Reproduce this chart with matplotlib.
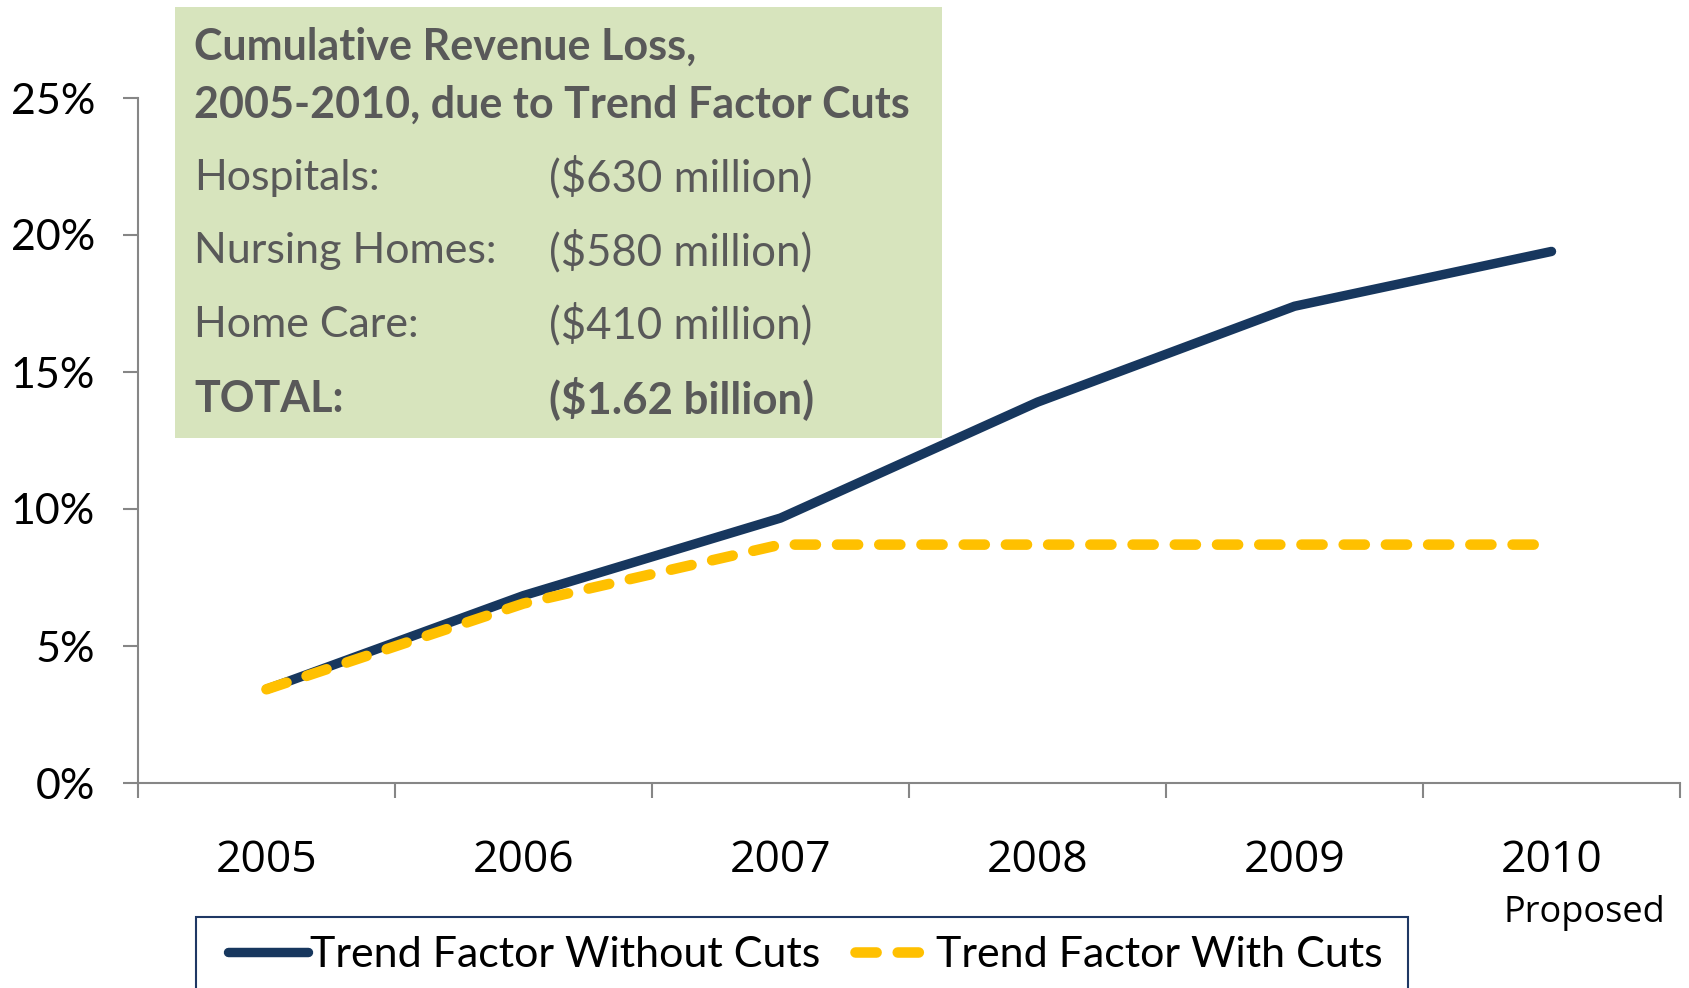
import matplotlib
matplotlib.use("Agg")
import matplotlib.pyplot as plt
from matplotlib.patches import Rectangle
from matplotlib.ticker import FixedLocator, FuncFormatter

plt.rcParams["font.family"] = ["Lato", "DejaVu Sans"]

years = ["2005", "2006", "2007", "2008", "2009", "2010"]
without_cuts = [3.42, 6.84, 9.67, 13.9, 17.4, 19.4]
with_cuts = [3.42, 6.55, 8.7, 8.7, 8.7, 8.7]
y_ticks = [0, 5, 10, 15, 20, 25]

box_title = ["Cumulative Revenue Loss,", "2005-2010, due to Trend Factor Cuts"]
sectors = ["Hospitals:", "Nursing Homes:", "Home Care:", "TOTAL:"]
losses = ["($630 million)", "($580 million)", "($410 million)", "($1.62 billion)"]

W, H = 1689, 988
NAVY = "#17375E"
GOLD = "#FFC000"
AXIS = "#868686"
TEXT = "#595959"

fig = plt.figure(figsize=(W / 100, H / 100), dpi=100)
ax = fig.add_axes([138 / W, 1 - 783 / H, (1680 - 138) / W, (783 - 98) / H])

x = list(range(len(years)))
ax.plot(x, without_cuts, color=NAVY, lw=6.8, solid_capstyle="round",
        solid_joinstyle="round", label="Trend Factor Without Cuts", zorder=3)
ax.plot(x, with_cuts, color=GOLD, lw=7.6, dashes=(2.0, 2.0),
        dash_capstyle="round", label="Trend Factor With Cuts", zorder=4)

ax.set_xlim(-0.5, len(years) - 0.5)
ax.set_ylim(0, 25)

for side in ["top", "right"]:
    ax.spines[side].set_visible(False)
for side in ["left", "bottom"]:
    ax.spines[side].set_color(AXIS)
    ax.spines[side].set_linewidth(1.5)

ax.set_yticks(y_ticks)
ax.yaxis.set_major_formatter(FuncFormatter(lambda v, p: f"{v:.0f}%"))
ax.tick_params(axis="y", direction="out", length=11, width=1.5, color=AXIS,
               labelsize=31, pad=20)

ax.xaxis.set_major_locator(FixedLocator([i - 0.5 for i in range(len(years) + 1)]))
ax.xaxis.set_major_formatter(FuncFormatter(lambda v, p: ""))
ax.xaxis.set_minor_locator(FixedLocator(x))
ax.set_xticklabels(years, minor=True)
ax.tick_params(axis="x", which="major", direction="out", length=11, width=1.5, color=AXIS)
ax.tick_params(axis="x", which="minor", length=0, pad=40, labelsize=32)
for lbl in ax.get_xticklabels(minor=True):
    lbl.set_fontfamily(["Open Sans", "DejaVu Sans"])

ax.text(x[-1] - 0.185, -0.163, "Proposed", transform=ax.get_xaxis_transform(),
        ha="left", va="top", fontsize=26, family=["Open Sans", "DejaVu Sans"])

# green summary box
fig.add_artist(Rectangle((174.5 / W, 1 - 438.5 / H), (941.5 - 174.5) / W, (438.5 - 7.5) / H,
                         transform=fig.transFigure, facecolor="#D7E4BD",
                         edgecolor="none", zorder=5))
for i, line in enumerate(box_title):
    fig.text(194 / W, 1 - (47 + 57.5 * i) / H, line, ha="left", va="center",
             fontsize=31, fontweight="bold", color=TEXT, zorder=6)
for i, (name, amount) in enumerate(zip(sectors, losses)):
    yy = 1 - (178 + 73.5 * i) / H
    weight = "bold" if name == "TOTAL:" else "normal"
    fig.text(194 / W, yy, name, ha="left", va="center", fontsize=31,
             fontweight=weight, color=TEXT, zorder=6)
    fig.text(549 / W, yy, amount, ha="left", va="center", fontsize=31.5,
             fontweight=weight, color=TEXT, zorder=6)

# legend frame runs off the bottom of the figure
fig.add_artist(Rectangle((196 / W, -0.05), (1408 - 196) / W, 0.05 + (988 - 917) / H,
                         transform=fig.transFigure, facecolor="white",
                         edgecolor="#1F3864", linewidth=1.5, zorder=1))
leg = fig.legend(loc="center left", bbox_to_anchor=(228 / W, 1 - 955 / H),
                 ncol=2, fontsize=31, frameon=False,
                 borderaxespad=0, borderpad=0, handlelength=1.85,
                 handletextpad=0.05, columnspacing=0.8)
leg.set_zorder(2)

fig.savefig("out.png", dpi=100)
